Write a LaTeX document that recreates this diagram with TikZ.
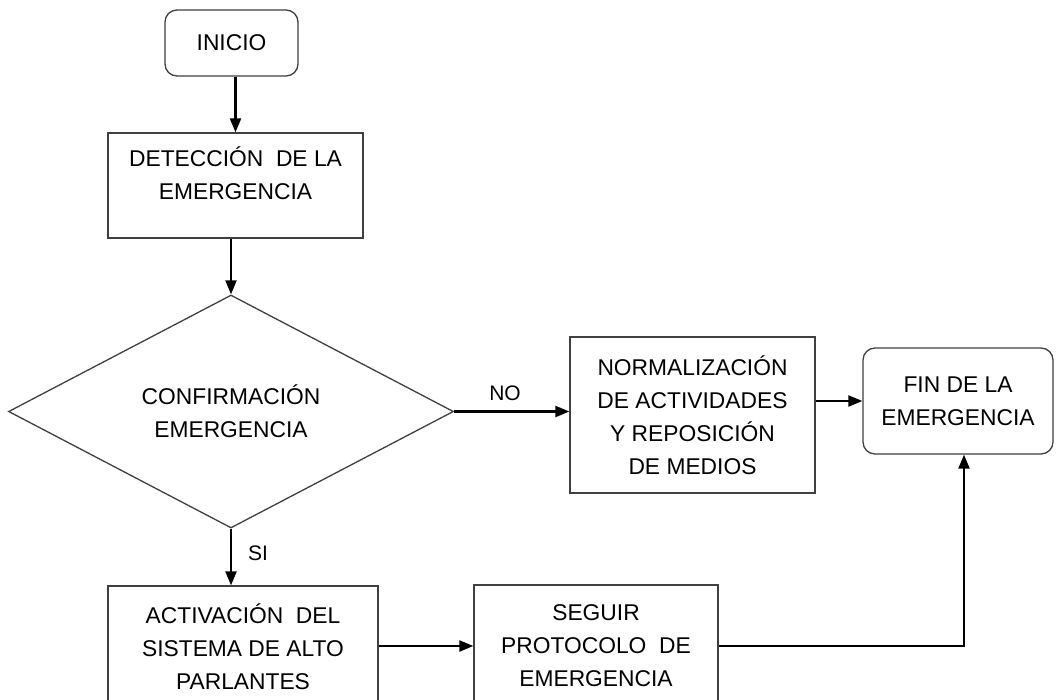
\documentclass[tikz,border=0pt]{standalone}
\usepackage{fontspec}
\setmainfont{Liberation Sans}
\usetikzlibrary{arrows.meta,shapes.geometric}
\begin{document}
\begin{tikzpicture}[x=1pt,y=-1pt,
  every node/.style={font=\fontsize{22.8}{33}\selectfont, text=black},
  box/.style={draw=black!75, line width=1.3pt, rectangle, align=center, inner sep=0pt},
  rbox/.style={box, rounded corners=12pt},
  dia/.style={draw=black!75, line width=1.3pt, diamond, align=center, inner sep=0pt,
    minimum width=445pt, minimum height=233pt},
  arr/.style={line width=2.2pt, -{Triangle[length=14pt,width=11pt]}},
  lab/.style={font=\fontsize{21}{24}\selectfont}]
\useasboundingbox (0,0) rectangle (1056,699);
\fill[white] (0,0) rectangle (1056,699);
\node[rbox, minimum width=133pt, minimum height=66pt] (inicio) at (231.5,43) {INICIO};
\node[box, minimum width=255pt, minimum height=105pt] (det) at (235.5,185.5) {DETECCIÓN \ DE LA\\EMERGENCIA\\[-8pt]};
\node[dia] (conf) at (231,411.5) {CONFIRMACIÓN\\EMERGENCIA};
\node[box, minimum width=245pt, minimum height=156pt] (norm) at (692.5,415) {NORMALIZACIÓN\\DE ACTIVIDADES\\Y REPOSICIÓN\\DE MEDIOS};
\node[rbox, minimum width=190pt, minimum height=106pt] (fin) at (958,401) {FIN DE LA\\EMERGENCIA};
\node[box, minimum width=270pt, minimum height=122pt] (act) at (243,647) {ACTIVACIÓN \ DEL\\SISTEMA DE ALTO\\PARLANTES};
\node[box, minimum width=244pt, minimum height=122pt] (seg) at (596,646) {SEGUIR\\PROTOCOLO \ DE\\EMERGENCIA};
\coordinate (turn) at ([xshift=6pt]fin.south |- seg.east);
\draw[arr] (det.north |- inicio.south) -- (det.north);
\draw[arr] (conf.north |- det.south) -- (conf.north);
\draw[arr] (conf.east) -- (conf.east -| norm.west);
\node[lab] (no) at (505,393) {NO};
\draw[arr] (conf.south) -- (conf.south |- act.north);
\node[lab] (si) at (258,553) {SI};
\draw[arr] (fin.west -| norm.east) -- (fin.west);
\draw[arr] (act.east |- seg.west) -- (seg.west);
\draw[arr] (seg.east) -- (turn) -- ([xshift=6pt]fin.south);
\end{tikzpicture}
\end{document}
